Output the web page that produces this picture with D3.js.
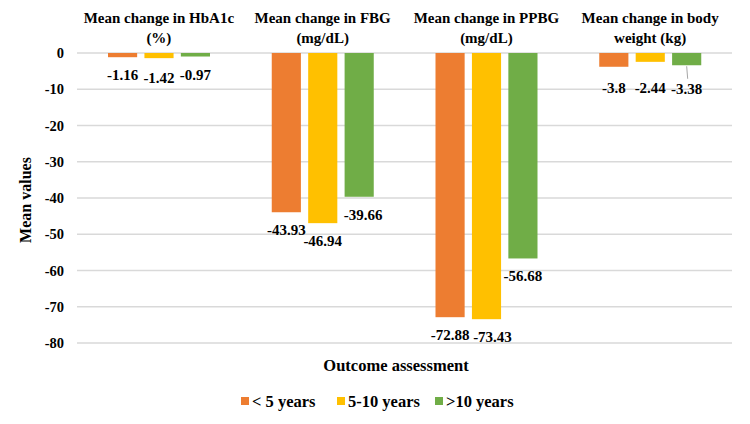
<!DOCTYPE html>
<html><head><meta charset="utf-8">
<script src="https://cdn.jsdelivr.net/npm/d3@7"></script>
<style>body{margin:0;background:#fff}svg{display:block}text{font-family:"Liberation Serif","Times New Roman",serif;font-weight:bold;fill:#000}</style>
</head><body><svg id="c" width="750" height="424"></svg>
<script>
const categories = [["Mean change in HbA1c","(%)"],["Mean change in FBG","(mg/dL)"],["Mean change in PPBG","(mg/dL)"],["Mean change in body","weight (kg)"]];
const seriesNames = ["< 5 years","5-10 years",">10 years"];
const lt5 = [-1.16,-43.93,-72.88,-3.8];
const s5to10 = [-1.42,-46.94,-73.43,-2.44];
const gt10 = [-0.97,-39.66,-56.68,-3.38];
const yTicks = [0,-10,-20,-30,-40,-50,-60,-70,-80];
const colors = ["#ED7D31","#FFC000","#70AD47"];
const seriesVals = [lt5,s5to10,gt10];

const svg = d3.select("#c");
const L=77,R=732,T=53,B=343;
const x0 = d3.scaleBand().domain(d3.range(categories.length)).range([L,R]);
const x1 = d3.scaleBand().domain(d3.range(3)).range([31,133]).paddingInner(0.2);
const y = d3.scaleLinear().domain([-80,0]).range([B,T]);
const fmt = v => String(v);

svg.append("g").selectAll("line").data(yTicks).join("line")
  .attr("x1",L).attr("x2",R).attr("y1",d=>y(d)).attr("y2",d=>y(d))
  .attr("stroke","#d9d9d9").attr("stroke-width",1.3);
const ax = d3.axisLeft(y).tickValues(yTicks).tickSize(0).tickPadding(0).tickFormat(fmt);
const ag = svg.append("g").attr("transform",`translate(${L-13},0)`).call(ax);
ag.select(".domain").remove();
ag.selectAll("text").style("font-size","14.5px").style("font-family","Liberation Serif").style("font-weight","bold").attr("fill","#000");

categories.forEach((c,i)=>{
  seriesVals.forEach((s,j)=>{
    const v=s[i];
    svg.append("rect").attr("x",x0(i)+x1(j)).attr("width",x1.bandwidth())
      .attr("y",y(0)).attr("height",y(v)-y(0)).attr("fill",colors[j]);
  });
});
categories.forEach((c,i)=>{
  const last = i===categories.length-1;
  const gmin = d3.min(seriesVals,s=>s[i]);
  seriesVals.forEach((s,j)=>{
    const v=s[i];
    let cx = x0(i)+x1(j)+x1.bandwidth()/2;
    let ly = last ? y(gmin)+26 : y(v)+23;
    if(i===1&&j===2){cx+=4;}
    if(i===2&&j===1){cx+=6;}
    if(i===0&&j===1){ly+=2;}
    if(last&&j===2){
      svg.append("line").attr("x1",cx).attr("x2",cx+1).attr("y1",y(v)+1).attr("y2",y(gmin)+12).attr("stroke","#a6a6a6").attr("stroke-width",1);
      ly+=1.5;
    }
    svg.append("text").attr("x",cx).attr("y",ly).attr("text-anchor","middle")
      .style("font-size","15px").text(fmt(v));
  });
  c.forEach((t,k)=>{
    svg.append("text").attr("x",x0(i)+x0.bandwidth()/2).attr("y",23+k*19.5).attr("text-anchor","middle")
      .style("font-size","15px").text(t);
  });
});

svg.append("text").attr("transform","translate(31,200) rotate(-90)").attr("text-anchor","middle").style("font-size","16px").text("Mean values");
svg.append("text").attr("x",396).attr("y",371).attr("text-anchor","middle").style("font-size","16.5px").text("Outcome assessment");

const lx=[241,337,435];
seriesNames.forEach((n,j)=>{
  svg.append("rect").attr("x",lx[j]).attr("y",397).attr("width",8).attr("height",8).attr("fill",colors[j]);
  svg.append("text").attr("x",lx[j]+11).attr("y",406.5).style("font-size","16.5px").text(n);
});
</script></body></html>
